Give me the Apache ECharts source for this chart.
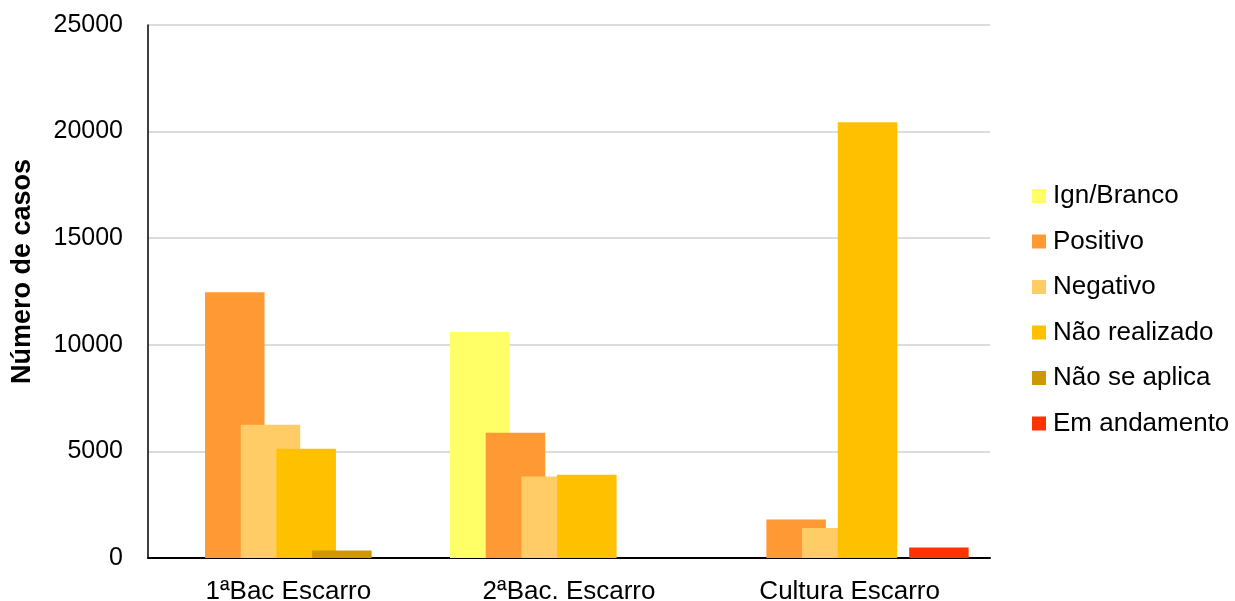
<!DOCTYPE html>
<html>
<head>
<meta charset="utf-8">
<script src="https://cdn.jsdelivr.net/npm/echarts@6/dist/echarts.min.js"></script>
<style>
  html, body { margin: 0; padding: 0; background: #ffffff; }
  #chart { width: 1235px; height: 601px; }
</style>
</head>
<body>
<div id="chart"></div>
<script>
// Exam categories along the x axis
const categories = ['1ªBac Escarro', '2ªBac. Escarro', 'Cultura Escarro'];

// Case counts per result, one value per exam
const ignBranco    = [0, 10600, 0];
const positivo     = [12470, 5880, 1800];
const negativo     = [6250, 3820, 1410];
const naoRealizado = [5130, 3900, 20440];
const naoSeAplica  = [350, 0, 0];
const emAndamento  = [0, 0, 490];

const seriesNames = ['Ign/Branco', 'Positivo', 'Negativo', 'Não realizado', 'Não se aplica', 'Em andamento'];
const seriesData = [ignBranco, positivo, negativo, naoRealizado, naoSeAplica, emAndamento];
const seriesColors = ['#FFFF66', '#FF9933', '#FFCC66', '#FFC000', '#CC9900', '#FF3300'];

const FONT = '"Liberation Sans", Arial, sans-serif';

const chart = echarts.init(document.getElementById('chart'), null, { renderer: 'canvas' });

chart.setOption({
  backgroundColor: '#ffffff',
  animation: false,
  textStyle: { fontFamily: FONT, color: '#000000' },
  grid: { left: 148, right: 245, top: 25, bottom: 43, containLabel: false, outerBoundsMode: 'none' },
  legend: {
    orient: 'vertical',
    left: 1032,
    top: 183,
    padding: 0,
    icon: 'rect',
    itemWidth: 14,
    itemHeight: 14,
    itemGap: 19.5,
    textStyle: { fontFamily: FONT, fontSize: 26, color: '#000000', lineHeight: 25, padding: [0, 0, 0, 2] },
    data: seriesNames
  },
  xAxis: {
    type: 'category',
    data: categories,
    axisLine: { show: true, lineStyle: { color: '#000000', width: 2 } },
    axisTick: { show: false },
    axisLabel: { fontFamily: FONT, fontSize: 26, color: '#000000', margin: 21, lineHeight: 25 }
  },
  yAxis: {
    type: 'value',
    min: 0,
    max: 25000,
    interval: 5000,
    name: 'Número de casos',
    nameLocation: 'middle',
    nameRotate: 90,
    nameGap: 112,
    nameTextStyle: { fontFamily: FONT, fontSize: 27, fontWeight: 'bold', color: '#000000', padding: [0, 0, 0, 40] },
    axisLine: { show: true, lineStyle: { color: '#000000', width: 1.5 } },
    axisTick: { show: false },
    axisLabel: { fontFamily: FONT, fontSize: 25, color: '#000000', margin: 25, formatter: (v) => String(v) },
    splitLine: { show: true, lineStyle: { color: '#dcdcdc', width: 2 } }
  },
  series: seriesNames.map((name, i) => ({
    name: name,
    type: 'bar',
    data: seriesData[i],
    barWidth: 59.5,
    barGap: '-40%',
    itemStyle: { color: seriesColors[i] }
  }))
});
</script>
</body>
</html>
